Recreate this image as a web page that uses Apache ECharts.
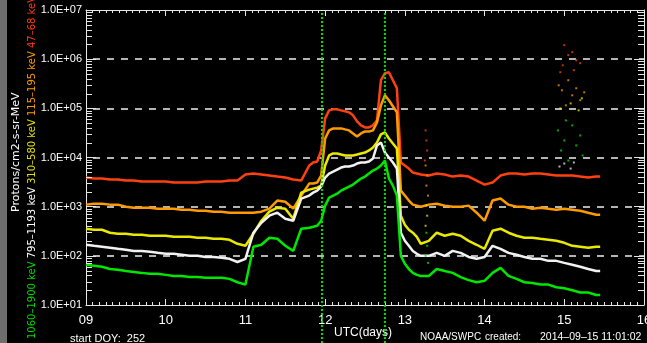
<!DOCTYPE html>
<html>
<head>
<meta charset="utf-8">
<script src="https://cdn.jsdelivr.net/npm/echarts@6/dist/echarts.min.js"></script>
<style>
  html, body { margin: 0; padding: 0; background: #000; }
  #chart { width: 647px; height: 343px; }
</style>
</head>
<body>
<div id="chart"></div>
<script>
// GOES differential proton flux, days of September 2014 (UTC)
const days = [
  9.0, 9.1, 9.2, 9.3, 9.4, 9.5, 9.6, 9.7, 9.8, 9.9,
  10.0, 10.1, 10.2, 10.3, 10.4, 10.5, 10.6, 10.7, 10.8, 10.9,
  11.0, 11.1, 11.2, 11.3, 11.4, 11.5, 11.6, 11.7, 11.8,
  11.85, 11.9, 11.95,
  12.0, 12.05, 12.1, 12.15, 12.2, 12.25, 12.3, 12.35, 12.4, 12.45,
  12.5, 12.55, 12.6, 12.65, 12.7, 12.75, 12.8, 12.85, 12.9, 12.95,
  13.0, 13.05, 13.1, 13.15, 13.2,
  13.3, 13.4, 13.5, 13.6, 13.7, 13.8, 13.9,
  14.0, 14.1, 14.2, 14.3, 14.4, 14.5, 14.6, 14.7, 14.8, 14.9,
  15.0, 15.1, 15.2, 15.3, 15.4, 15.45
];

// Protons/cm2-s-sr-MeV per energy channel
const p47_68 = [
  3910, 3730, 3730, 3560, 3560, 3390, 3390, 3240, 3240, 3240,
  3240, 3090, 3090, 3090, 3090, 3240, 3240, 3240, 3390, 3390,
  4500, 4720, 4500, 4290, 4090, 3910, 3560, 3390, 6870,
  7910, 8290, 13900,
  62500, 91000, 95400, 95400, 91000, 86900, 82900, 72000, 54300, 45000,
  40900, 40900, 45000, 56900, 373000, 518000, 543000, 373000, 256000, 7910,
  6870, 5960, 4940, 4720, 4500,
  4290, 4720, 4500, 4090, 4290, 4090, 3390,
  2810, 3090, 4290, 4720, 4720, 4500, 4720, 4720, 4500, 4290,
  4290, 4290, 4090, 3910, 4090, 4090
];
const p115_195 = [
  1100, 1150, 1150, 1100, 1100, 1000, 954, 954, 954, 910,
  910, 910, 869, 869, 829, 829, 791, 791, 754, 754,
  754, 754, 791, 910, 1330, 1260, 910, 1680, 2950,
  2950, 3090, 4290,
  24400, 35600, 39100, 39100, 39100, 37300, 35600, 30900, 26800, 30900,
  33900, 33900, 35600, 51800, 115000, 184000, 146000, 110000, 82900, 2120,
  1680, 1330, 1100, 1050, 1000,
  1100, 1150, 1050, 1000, 1000, 1050, 754,
  518, 1330, 1460, 1100, 1000, 1000, 910, 954, 910, 869,
  910, 869, 829, 754, 687, 687
];
const p310_580 = [
  356, 339, 339, 295, 281, 281, 268, 268, 256, 256,
  256, 244, 244, 244, 233, 233, 222, 222, 212, 176,
  160, 281, 518, 791, 954, 910, 569, 1930, 2220,
  2330, 2440, 2680,
  6870, 11000, 12100, 12100, 11500, 11000, 11000, 11000, 11500, 12100,
  12600, 13900, 16000, 20200, 29500, 32400, 24400, 19300, 15300, 655,
  429, 339, 295, 244, 176,
  202, 295, 256, 281, 256, 202, 168,
  139, 324, 356, 295, 256, 233, 233, 222, 212, 202,
  184, 160, 153, 146, 153, 153
];
const p795_1193 = [
  168, 160, 153, 146, 139, 133, 126, 126, 121, 115,
  110, 110, 105, 100, 100, 95, 95, 91, 87, 75,
  87, 295, 472, 655, 754, 569, 518, 1460, 1680,
  1930, 2120, 2560,
  3910, 4720, 5180, 5690, 6250, 6550, 6550, 6870, 7540, 7910,
  7910, 8290, 9540, 17600, 20200, 12600, 10000, 7910, 5960, 295,
  202, 160, 126, 110, 100,
  100, 115, 100, 126, 115, 95, 87,
  95, 160, 139, 115, 105, 95, 87, 87, 79, 79,
  72, 66, 60, 54, 49, 49
];
const p1060_1900 = [
  66, 63, 60, 54, 52, 49, 47, 45, 43, 43,
  41, 39, 39, 37, 37, 36, 36, 36, 34, 29,
  26, 153, 168, 233, 222, 160, 126, 356, 373,
  391, 409, 518,
  1050, 1530, 1680, 1840, 2120, 2330, 2560, 2810, 3240, 3730,
  4090, 4720, 5430, 5960, 6870, 8690, 3730, 2680, 1680, 100,
  69, 54, 45, 41, 39,
  39, 54, 49, 45, 37, 32, 29,
  31, 45, 57, 39, 34, 29, 28, 26, 26, 23,
  22, 20, 18, 18, 16, 16
];

// isolated spike samples [day, flux]
const spikes47_68 = [[13.26, 35600], [13.27, 22200], [13.28, 13900], [13.25, 8690],
  [14.95, 543000], [14.98, 750000], [15.0, 1930000], [15.05, 1210000], [15.1, 1390000],
  [15.12, 597000], [15.15, 950000], [15.2, 830000]];
const spikes115_195 = [[13.26, 6870], [13.28, 4290], [13.27, 2680], [13.29, 1680],
  [14.93, 294000], [14.97, 233000], [15.02, 115000], [15.05, 373000], [15.1, 184000],
  [15.15, 256000], [15.2, 146000], [15.25, 212000]];
const spikes310_580 = [[13.27, 1050], [13.28, 655], [13.26, 409],
  [14.95, 100000], [15.08, 126000], [15.18, 91000], [15.22, 160000]];
const spikes795_1193 = [[14.94, 6550], [15.0, 7540], [15.08, 5960], [15.12, 7910]];
const spikes1060_1900 = [[13.27, 295], [13.28, 160], [13.26, 100], [13.29, 72],
  [14.92, 35600], [14.96, 13900], [15.0, 22200], [15.02, 56900], [15.05, 8690],
  [15.1, 45000], [15.15, 17600], [15.2, 28000], [15.23, 11000]];

// event markers (days)
const eventDays = [11.96, 12.75];

// axis text
const xTickDays = [9, 10, 11, 12, 13, 14, 15, 16];
const channelNames = ['1060–1900 keV', '795–1193 keV', '310–580 keV', '115–195 keV', '47–68 keV'];
const yTitle = 'Protons/cm2-s-sr-MeV';
const footer = { doy: 'start DOY:  252', axis: 'UTC(days)', agency: 'NOAA/SWPC', created: 'created:', stamp: '2014–09–15 11:01:02' };

const colors = {
  c47: '#ff4010', c115: '#ff9a00', c310: '#e8e800', c795: '#f2f2f2', c1060: '#00e600'
};

// minor log ticks 2..9 x 10^k
const minorTickValues = [];
for (let k = 1; k < 7; k++) for (let m = 2; m <= 9; m++) minorTickValues.push(m * Math.pow(10, k));

const pair = arr => days.map((d, i) => [d, arr[i]]);

const lineSeries = (name, arr, color) => ({
  name, type: 'line', data: pair(arr), showSymbol: false, symbol: 'none',
  lineStyle: { color, width: 2.5 }, z: 3
});
const spikeSeries = (pts, color) => ({
  type: 'scatter', data: pts, symbol: 'rect', symbolSize: 2,
  itemStyle: { color, opacity: 0.75 }, z: 3
});

const chart = echarts.init(document.getElementById('chart'), null, { renderer: 'canvas' });

const axisColor = '#e6e6e6';
const labelFont = 'Liberation Sans';

const option = {
  backgroundColor: '#000',
  animation: false,
  grid: { left: 86, right: 3, top: 10, bottom: 38, outerBoundsMode: 'none', containLabel: false },
  xAxis: [{
    type: 'value', min: xTickDays[0], max: xTickDays[xTickDays.length - 1], interval: 1,
    position: 'bottom',
    axisLine: { lineStyle: { color: axisColor, width: 1 } },
    axisTick: { inside: true, length: 6, lineStyle: { color: axisColor } },
    minorTick: { show: true, splitNumber: 12, length: 3, lineStyle: { color: axisColor } },
    axisLabel: {
      color: '#fff', fontFamily: labelFont, fontSize: 13, margin: 9,
      showMinLabel: true, showMaxLabel: true, hideOverlap: false,
      formatter: v => (v < 10 ? '0' + v : String(v))
    },
    splitLine: { show: false }
  }, {
    type: 'value', min: xTickDays[0], max: xTickDays[xTickDays.length - 1], interval: 1,
    position: 'top',
    axisLine: { lineStyle: { color: axisColor, width: 1 } },
    axisTick: { inside: true, length: 6, lineStyle: { color: axisColor } },
    minorTick: { show: true, splitNumber: 12, length: 3, lineStyle: { color: axisColor } },
    axisLabel: { show: false },
    splitLine: { show: false }
  }],
  yAxis: [{
    type: 'log', logBase: 10, min: 10, max: 1e7,
    axisLine: { lineStyle: { color: axisColor, width: 1 } },
    axisTick: { inside: true, length: 10, lineStyle: { color: axisColor } },
    axisLabel: {
      color: '#fff', fontFamily: labelFont, fontSize: 11, margin: 4,
      formatter: v => '1.0E+' + String(Math.round(Math.log10(v))).padStart(2, '0')
    },
    splitLine: {
      show: true, showMinLine: false, showMaxLine: false,
      lineStyle: { color: '#b4b4b4', width: 2, type: [7, 7], dashOffset: 7 }
    }
  }, {
    type: 'log', logBase: 10, min: 10, max: 1e7, position: 'right',
    axisLine: { lineStyle: { color: axisColor, width: 1 } },
    axisTick: { inside: true, length: 10, lineStyle: { color: axisColor } },
    axisLabel: { show: false },
    splitLine: { show: false }
  }],
  series: [
    lineSeries('47-68 keV', p47_68, colors.c47),
    lineSeries('115-195 keV', p115_195, colors.c115),
    lineSeries('310-580 keV', p310_580, colors.c310),
    lineSeries('795-1193 keV', p795_1193, colors.c795),
    lineSeries('1060-1900 keV', p1060_1900, colors.c1060),
    spikeSeries(spikes47_68, colors.c47),
    spikeSeries(spikes115_195, colors.c115),
    spikeSeries(spikes310_580, colors.c310),
    spikeSeries(spikes795_1193, colors.c795),
    spikeSeries(spikes1060_1900, colors.c1060),
    {
      // minor log ticks on the left and right frame
      type: 'custom', silent: true, z: 4,
      data: minorTickValues.map(v => [xTickDays[0], v]),
      renderItem(params, api) {
        const v = api.value(1);
        const l = api.coord([xTickDays[0], v]);
        const r = api.coord([xTickDays[xTickDays.length - 1], v]);
        const st = { stroke: axisColor, lineWidth: 1 };
        return {
          type: 'group', children: [
            { type: 'line', shape: { x1: l[0], y1: Math.round(l[1]) + 0.5, x2: l[0] + 6, y2: Math.round(l[1]) + 0.5 }, style: st },
            { type: 'line', shape: { x1: r[0] - 6, y1: Math.round(r[1]) + 0.5, x2: r[0], y2: Math.round(r[1]) + 0.5 }, style: st }
          ]
        };
      }
    },
    {
      // dotted event markers, running down through the footer
      type: 'custom', silent: true, clip: false, z: 5,
      data: eventDays.map(d => [d, 10]),
      renderItem(params, api) {
        const top = api.coord([api.value(0), 1e7]);
        const bot = api.coord([api.value(0), 10]);
        return {
          type: 'line',
          shape: { x1: top[0], y1: top[1] + 3, x2: bot[0], y2: bot[1] + 40 },
          style: { stroke: '#00e000', lineWidth: 2, lineDash: [2, 2] }
        };
      }
    }
  ],
  graphic: [
    { type: 'rect', left: 0, top: 0, shape: { width: 7, height: 343 }, style: { fill: '#6e6e6e' }, silent: true },
    {
      type: 'text', x: 16, y: 212, rotation: Math.PI / 2,
      style: {
        text: yTitle, fill: '#fff', font: '11px "DejaVu Sans"',
        align: 'left', verticalAlign: 'middle', textAlign: 'left', textVerticalAlign: 'middle'
      }
    },
    {
      type: 'text', x: 32, y: 339, rotation: Math.PI / 2,
      style: {
        text: '{g|' + channelNames[0] + '} {w|' + channelNames[1] + '} {y|' + channelNames[2] +
              '} {o|' + channelNames[3] + '} {r|' + channelNames[4] + '}',
        font: '10px "DejaVu Sans"',
        align: 'left', verticalAlign: 'middle', textAlign: 'left', textVerticalAlign: 'middle',
        rich: {
          g: { fill: '#00d800', font: '10px "DejaVu Sans"' },
          w: { fill: '#ffffff', font: '10px "DejaVu Sans"' },
          y: { fill: '#e0e000', font: '10px "DejaVu Sans"' },
          o: { fill: '#ff9a00', font: '10px "DejaVu Sans"' },
          r: { fill: '#ff3a10', font: '10px "DejaVu Sans"' }
        }
      }
    },
    { type: 'text', x: 70, y: 339, style: { text: footer.doy, fill: '#fff', font: '11px "Liberation Sans"', verticalAlign: 'middle', textVerticalAlign: 'middle' } },
    { type: 'text', x: 334, y: 333, style: { text: footer.axis, fill: '#fff', font: '12px "Liberation Sans"', verticalAlign: 'middle', textVerticalAlign: 'middle' } },
    { type: 'text', x: 420, y: 337, style: { text: footer.agency, fill: '#fff', font: '10px "Liberation Sans"', verticalAlign: 'middle', textVerticalAlign: 'middle' } },
    { type: 'text', x: 485, y: 337, style: { text: footer.created, fill: '#fff', font: '10px "Liberation Sans"', verticalAlign: 'middle', textVerticalAlign: 'middle' } },
    { type: 'text', x: 540, y: 337, style: { text: footer.stamp, fill: '#fff', font: '10.5px "Liberation Sans"', verticalAlign: 'middle', textVerticalAlign: 'middle' } }
  ]
};

chart.setOption(option);
</script>
</body>
</html>
